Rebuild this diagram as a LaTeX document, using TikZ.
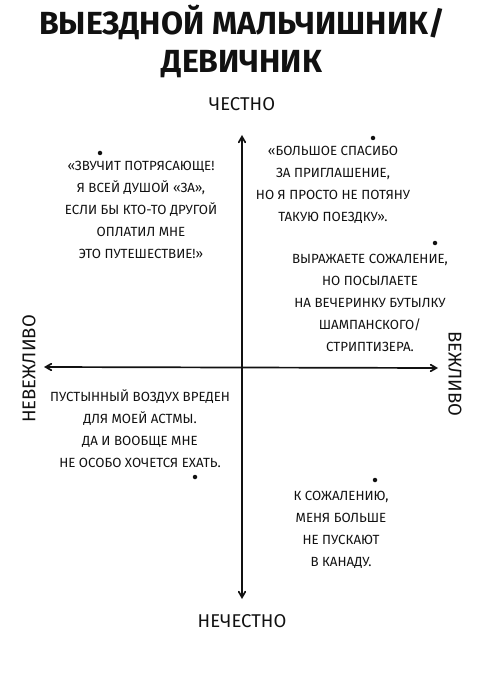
\documentclass[tikz,border=0pt]{standalone}
\usepackage{fontspec}
\setmainfont{Fira Sans}
\usepackage{xcolor}
\usetikzlibrary{arrows,positioning,calc}
\definecolor{inkblack}{HTML}{111111}

\begin{document}
\begin{tikzpicture}[x=1pt,y=-1pt, inkblack]
\useasboundingbox (0,0) rectangle (485,676);
\tikzset{quote/.style={align=center, font=\fontsize{13.3}{22}\selectfont, inner sep=0pt},
  axislabel/.style={font=\fontsize{18.5}{20}\selectfont, inner sep=0pt},
  spot/.style={circle, fill=inkblack, inner sep=0pt, minimum size=4.5pt}}
% title
\node[align=center, font=\fontsize{32}{38}\selectfont\bfseries, inner sep=0pt] (title) at (242,41) {ВЫЕЗДНОЙ МАЛЬЧИШНИК/\\ДЕВИЧНИК};
% axes
\coordinate (up) at (242,135);
\coordinate (down) at (242,599);
\coordinate (lft) at (44,367);
\coordinate (rgt) at (438,368);
\draw[<->, >=angle 60, line width=1.7pt] (up) -- (down);
\draw[<->, >=angle 60, line width=1.7pt] (lft) -- (rgt);
\node[axislabel] (honest) at (242,104) {ЧЕСТНО};
\node[axislabel] (dishonest) at (242,621) {НЕЧЕСТНО};
\node[axislabel, rotate=90] (rude) at (29,369) {НЕВЕЖЛИВО};
\node[axislabel, rotate=-90] (polite) at (455,374) {ВЕЖЛИВО};
% answers
\node[spot] (d1) at (100,153) {};
\node[quote] (q1) at (141,210) {«ЗВУЧИТ ПОТРЯСАЮЩЕ!\\Я ВСЕЙ ДУШОЙ «ЗА»,\\ЕСЛИ БЫ КТО-ТО ДРУГОЙ\\ОПЛАТИЛ МНЕ\\ЭТО ПУТЕШЕСТВИЕ!»};
\node[spot] (d2) at (373,138) {};
\node[quote] (q2) at (333,185) {«БОЛЬШОЕ СПАСИБО\\ЗА ПРИГЛАШЕНИЕ,\\НО Я ПРОСТО НЕ ПОТЯНУ\\ТАКУЮ ПОЕЗДКУ».};
\node[spot] (d3) at (435,243) {};
\node[quote] (q3) at (370,303) {ВЫРАЖАЕТЕ СОЖАЛЕНИЕ,\\НО ПОСЫЛАЕТЕ\\НА ВЕЧЕРИНКУ БУТЫЛКУ\\ШАМПАНСКОГО/\\СТРИПТИЗЕРА.};
\node[quote] (q4) at (140,429) {ПУСТЫННЫЙ ВОЗДУХ ВРЕДЕН\\ДЛЯ МОЕЙ АСТМЫ.\\ДА И ВООБЩЕ МНЕ\\НЕ ОСОБО ХОЧЕТСЯ ЕХАТЬ.};
\node[spot] (d4) at (195,477) {};
\node[spot] (d5) at (375,480) {};
\node[quote] (q5) at (341,530) {К СОЖАЛЕНИЮ,\\МЕНЯ БОЛЬШЕ\\НЕ ПУСКАЮТ\\В КАНАДУ.};
\end{tikzpicture}
\end{document}
